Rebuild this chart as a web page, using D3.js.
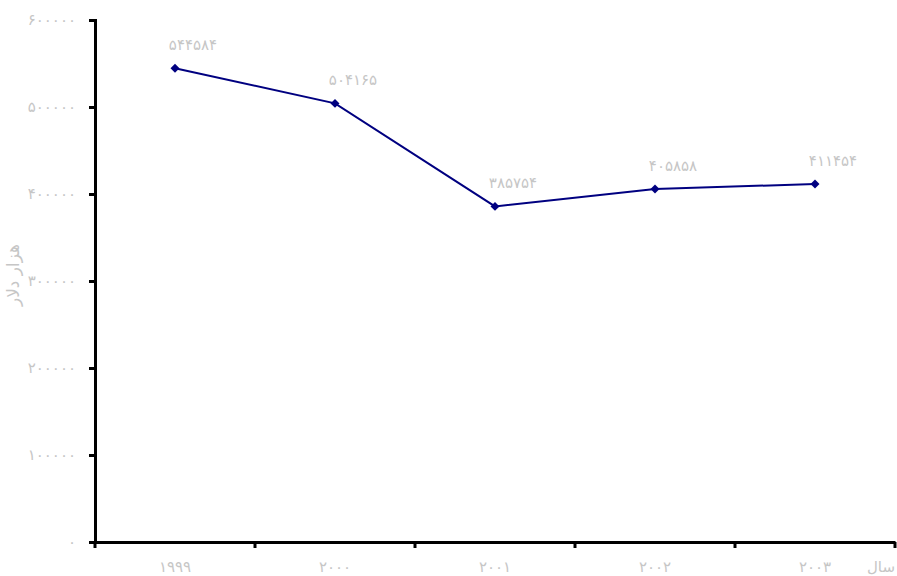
<!DOCTYPE html>
<html><head><meta charset="utf-8">
<script src="https://cdn.jsdelivr.net/npm/d3@7"></script>
<style>body{margin:0;background:#fff}text{font-family:"DejaVu Sans",sans-serif}</style>
</head><body>
<svg id="c" width="897" height="576"></svg>
<script>
const years = ["1999","2000","2001","2002","2003"];
const values = [544584, 504165, 385754, 405858, 411454];
const yTicks = [0,100000,200000,300000,400000,500000,600000];
const yTitle = "هزار دلار";
const xTitle = "سال";

const fa = s => String(s).replace(/[0-9]/g, d => "۰۱۲۳۴۵۶۷۸۹"[d]);
const svg = d3.select("#c");
const m = {l:95, r:895, t:20, b:542};
const x = d3.scaleBand().domain(years).range([m.l, m.r]);
const y = d3.scaleLinear().domain([0,600000]).range([m.b, m.t]);
const grey = "#c6c6c6";

// y axis
const ya = svg.append("g").attr("transform",`translate(${m.l},0)`)
  .call(d3.axisLeft(y).tickValues(yTicks).tickSize(6).tickPadding(13).tickFormat(fa));
ya.select(".domain").attr("stroke","#000").attr("stroke-width",3);
ya.selectAll(".tick line").attr("stroke","#000").attr("stroke-width",3);
ya.selectAll(".tick text").attr("fill",grey).attr("font-size",15)
  .attr("font-family","DejaVu Sans");

// x axis
const xa = svg.append("g").attr("transform",`translate(0,${m.b})`)
  .call(d3.axisBottom(x).tickSize(0).tickPadding(19).tickFormat(fa));
xa.select(".domain").attr("stroke","#000").attr("stroke-width",3);
xa.selectAll(".tick text").attr("fill",grey).attr("font-size",15)
  .attr("font-family","DejaVu Sans");
// boundary ticks
const bounds = years.map(d => x(d)).concat([m.r]);
xa.selectAll(".bt").data(bounds).enter().append("line")
  .attr("x1",d=>d).attr("x2",d=>d).attr("y1",0).attr("y2",6)
  .attr("stroke","#000").attr("stroke-width",3);

// titles
svg.append("text").attr("transform",`translate(19,${275}) rotate(-90)`)
  .attr("text-anchor","middle").attr("fill",grey).attr("font-size",17).text(yTitle);
svg.append("text").attr("x",895).attr("y",572).attr("text-anchor","end")
  .attr("fill",grey).attr("font-size",15).text(xTitle);

// line
const cx = d => x(d) + x.bandwidth()/2;
const line = d3.line().x((d,i)=>cx(years[i])).y(d=>y(d));
svg.append("path").datum(values).attr("d",line).attr("fill","none")
  .attr("stroke","#000080").attr("stroke-width",2);
svg.selectAll(".pt").data(values).enter().append("path")
  .attr("d",d3.symbol(d3.symbolSquare,40))
  .attr("transform",(d,i)=>`translate(${cx(years[i])},${y(d)}) rotate(45)`)
  .attr("fill","#000080");
svg.selectAll(".lb").data(values).enter().append("text")
  .attr("x",(d,i)=>cx(years[i])+18).attr("y",d=>y(d)-18)
  .attr("text-anchor","middle").attr("fill",grey).attr("font-size",15)
  .text(d=>fa(d));
</script>
</body></html>
